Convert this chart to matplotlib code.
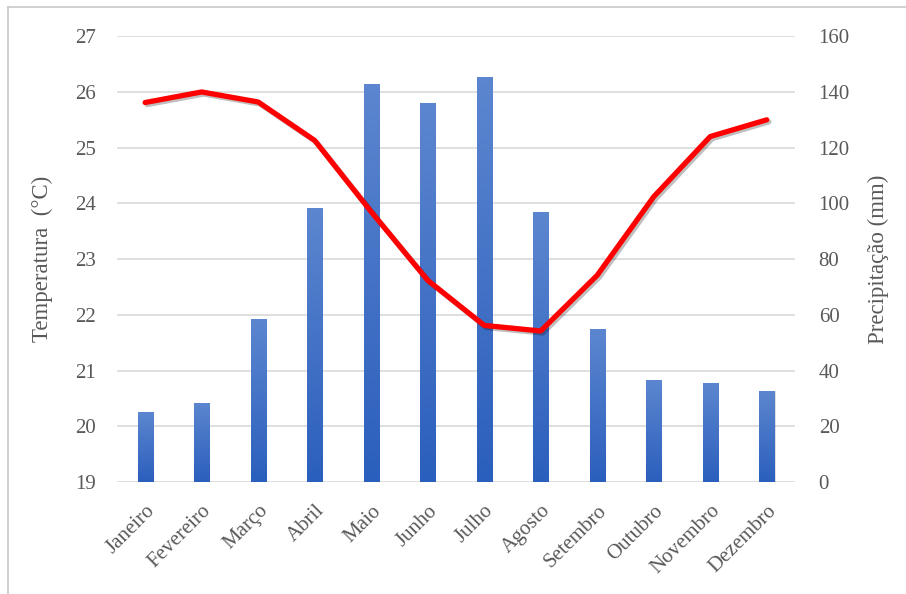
import numpy as np
import matplotlib
matplotlib.use("Agg")
import matplotlib.pyplot as plt
import matplotlib.patheffects as pe
from matplotlib.colors import LinearSegmentedColormap
from matplotlib.patches import Rectangle

# Dados
meses = ["Janeiro", "Fevereiro", "Março", "Abril", "Maio", "Junho",
         "Julho", "Agosto", "Setembro", "Outubro", "Novembro", "Dezembro"]
temperatura = [25.81, 26.0, 25.82, 25.13, 23.85, 22.62,
               21.81, 21.71, 22.71, 24.12, 25.2, 25.5]
precipitacao = [25.1, 28.4, 58.4, 98.2, 142.7, 136.2,
                145.4, 96.9, 54.9, 36.5, 35.5, 32.6]

cinza = "#595959"
plt.rcParams["font.family"] = ["Liberation Serif", "DejaVu Serif"]

fig = plt.figure(figsize=(9.06, 5.94), dpi=100)
ax = fig.add_axes([0.129, 0.1886, 0.7485, 0.7504])
ax2 = ax.twinx()

x = np.arange(len(meses))
largura = 0.27

# Barras de precipitação com gradiente
cmap = LinearSegmentedColormap.from_list("azul", ["#2B5FBD", "#5C86CF"])
grad = np.linspace(0, 1, 256).reshape(-1, 1)
barras = ax2.bar(x, precipitacao, width=largura, color="none", zorder=2)
for b in barras:
    bx, by = b.get_x(), b.get_y()
    bw, bh = b.get_width(), b.get_height()
    sombra = Rectangle((bx + 0.02, by), bw, bh, color="#000000", alpha=0.12,
                       zorder=1.5, linewidth=0)
    ax2.add_patch(sombra)
    im = ax2.imshow(grad, extent=(bx, bx + bw, by, by + bh), origin="lower",
                    aspect="auto", cmap=cmap, zorder=2)
    im.set_clip_path(b)

ax2.set_ylim(0, 160)
ax2.set_yticks(np.arange(0, 161, 20))
ax2.grid(axis="y", color="#D9D9D9", linewidth=1.2, zorder=0)
ax2.set_axisbelow(True)

# Linha de temperatura
ax.set_zorder(ax2.get_zorder() + 1)
ax.patch.set_visible(False)
ax.plot(x, temperatura, color="#FF0000", linewidth=3.8, solid_capstyle="round",
        solid_joinstyle="round",
        path_effects=[pe.SimpleLineShadow(offset=(1.5, -1.5), alpha=0.25),
                      pe.Normal()])
ax.set_ylim(19, 27)
ax.set_yticks(np.arange(19, 28, 1))
ax.set_xlim(-0.5, len(meses) - 0.5)
ax.set_xticks(x)
ax.set_xticklabels(meses, rotation=45, ha="right", rotation_mode="anchor",
                   fontsize=15, color=cinza)

for a in (ax, ax2):
    for s in a.spines.values():
        s.set_visible(False)
    a.tick_params(length=0, labelsize=15, labelcolor=cinza)
ax.tick_params(axis="y", pad=15)
ax2.tick_params(axis="y", pad=17)
ax.tick_params(axis="x", pad=14)

ax.set_ylabel("Temperatura  (°C)", fontsize=16.5, color=cinza, labelpad=16)
ax2.set_ylabel("Precipitação (mm)", fontsize=16.5, color=cinza, labelpad=13)

# Moldura da imagem original
fig.add_artist(plt.Line2D([0.009, 0.009], [0.0, 0.988], color="#C8C8C8",
                          linewidth=1.2, transform=fig.transFigure))
fig.add_artist(plt.Line2D([0.009, 1.0], [0.988, 0.988], color="#C8C8C8",
                          linewidth=1.2, transform=fig.transFigure))

fig.savefig("out.png", dpi=100, facecolor="white")
